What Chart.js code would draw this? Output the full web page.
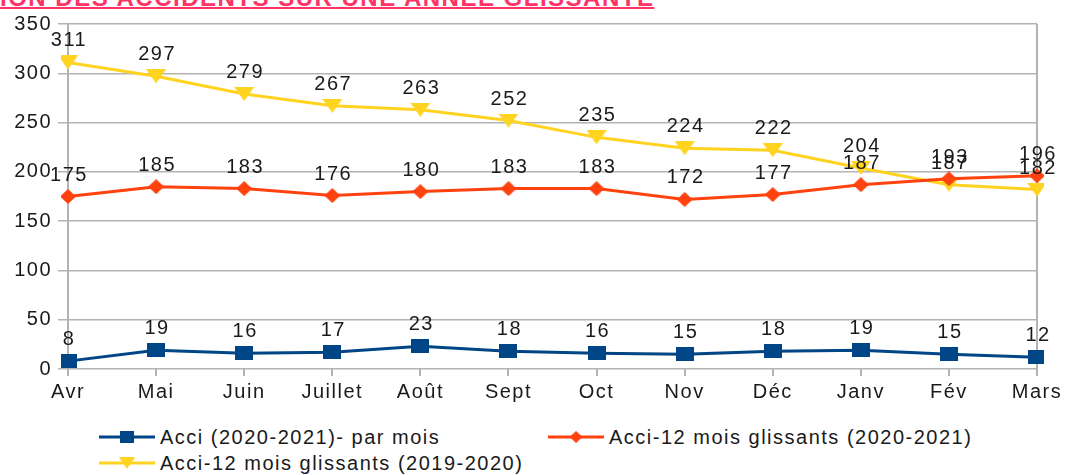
<!DOCTYPE html>
<html>
<head>
<meta charset="utf-8">
<script src="https://cdn.jsdelivr.net/npm/chart.js@4/dist/chart.umd.min.js"></script>
<style>
  body { margin: 0; background: #fff; font-family: "Liberation Sans", Arial, sans-serif; }
  #wrap { position: relative; width: 1065px; height: 475px; overflow: hidden; }
  #title {
    position: absolute; left: 0; top: -14px; white-space: nowrap; letter-spacing: 1.5px;
    font: bold 24px/24px "Liberation Sans", Arial, sans-serif; color: #ff3366;
    text-decoration: underline; text-decoration-thickness: 2px; text-underline-offset: 1px;
  }
  #box { position: absolute; left: 0; top: 0; width: 1065px; height: 405px; }
  .leg { position: absolute; height: 24px; display: flex; align-items: center; font-size: 20px; letter-spacing: 1.5px; color: #1a1a1a; white-space: nowrap; }
  .leg canvas { margin-right: 5px; }
</style>
</head>
<body>
<div id="wrap">
  <div id="title">ION DES ACCIDENTS SUR UNE ANNÉE GLISSANTE</div>
  <div id="box"><canvas id="chart"></canvas></div>
  <div class="leg" id="leg0" style="left:99px; top:425px;"></div>
  <div class="leg" id="leg1" style="left:548px; top:425px;"></div>
  <div class="leg" id="leg2" style="left:99px; top:451px;"></div>
</div>
<script>
const months = ['Avr', 'Mai', 'Juin', 'Juillet', 'Août', 'Sept', 'Oct', 'Nov', 'Déc', 'Janv', 'Fév', 'Mars'];
const parMois = [8, 19, 16, 17, 23, 18, 16, 15, 18, 19, 15, 12];
const glissants2021 = [175, 185, 183, 176, 180, 183, 183, 172, 177, 187, 193, 196];
const glissants2020 = [311, 297, 279, 267, 263, 252, 235, 224, 222, 204, 187, 182];
const seriesNames = ['Acci (2020-2021)- par mois', 'Acci-12 mois glissants (2020-2021)', 'Acci-12 mois glissants (2019-2020)'];

const blue = '#004586';
const orange = '#ff420e';
const yellow = '#ffd320';

// little canvases used as point markers
function marker(type, color, w, h) {
  const c = document.createElement('canvas');
  c.width = w; c.height = h;
  const g = c.getContext('2d');
  g.fillStyle = color;
  g.beginPath();
  if (type === 'square') {
    g.rect(0, 0, w, h);
  } else if (type === 'diamond') {
    g.moveTo(w / 2, 0); g.lineTo(w, h / 2); g.lineTo(w / 2, h); g.lineTo(0, h / 2);
  } else {
    g.moveTo(0, 0); g.lineTo(w, 0); g.lineTo(w / 2, h);
  }
  g.closePath();
  g.fill();
  return c;
}

const ptBlue = marker('square', blue, 18, 14);
const ptOrange = marker('diamond', orange, 16, 15);
const ptYellow = marker('triangle', yellow, 20, 14);

// the original text is a bit spaced out
const spacing = {
  id: 'spacing',
  beforeInit(chart) { chart.ctx.letterSpacing = '1.5px'; },
  beforeDraw(chart) { chart.ctx.letterSpacing = '1.5px'; }
};

// value labels above every point
const valueLabels = {
  id: 'valueLabels',
  afterDatasetsDraw(chart) {
    const ctx = chart.ctx;
    ctx.save();
    ctx.letterSpacing = '1.5px';
    ctx.font = '20px "Liberation Sans", Arial, sans-serif';
    ctx.fillStyle = '#1a1a1a';
    ctx.textAlign = 'center';
    ctx.textBaseline = 'alphabetic';
    chart.data.datasets.forEach((ds, i) => {
      chart.getDatasetMeta(i).data.forEach((pt, j) => {
        ctx.fillText(ds.data[j], pt.x + 1, pt.y - 16);
      });
    });
    ctx.restore();
  }
};

const ctx = document.getElementById('chart').getContext('2d');
new Chart(ctx, {
  type: 'line',
  data: {
    labels: months,
    datasets: [
      { label: seriesNames[0], data: parMois, borderColor: blue, backgroundColor: blue, borderWidth: 3, pointStyle: ptBlue, tension: 0 },
      { label: seriesNames[1], data: glissants2021, borderColor: orange, backgroundColor: orange, borderWidth: 3, pointStyle: ptOrange, tension: 0 },
      { label: seriesNames[2], data: glissants2020, borderColor: yellow, backgroundColor: yellow, borderWidth: 3, pointStyle: ptYellow, tension: 0 }
    ]
  },
  options: {
    responsive: true,
    maintainAspectRatio: false,
    animation: false,
    layout: { padding: { top: 24, right: 28, left: 0, bottom: 0 } },
    plugins: { legend: { display: false }, tooltip: { enabled: false } },
    scales: {
      x: {
        offset: false,
        grid: {
          color: c => (c.index === 0 || c.index === months.length - 1) ? '#b3b3b3' : 'rgba(0,0,0,0)',
          tickColor: '#b3b3b3',
          tickLength: 7,
          lineWidth: 2
        },
        border: { display: false },
        ticks: { color: '#1a1a1a', font: { size: 20, family: '"Liberation Sans", Arial, sans-serif' }, padding: 4, maxRotation: 0, autoSkip: false },
        afterFit: s => { s.height = 36; }
      },
      y: {
        min: 0,
        max: 350,
        grid: { color: '#b3b3b3', tickLength: 10, lineWidth: 1.5 },
        border: { display: false },
        ticks: { stepSize: 50, color: '#1a1a1a', font: { size: 20, family: '"Liberation Sans", Arial, sans-serif' }, padding: 6 },
        afterFit: s => { s.width = 68; }
      }
    }
  },
  plugins: [spacing, valueLabels]
});

// legend built by hand to keep the left aligned layout
[[ptBlue, blue], [ptOrange, orange], [ptYellow, yellow]].forEach(([pt, col], i) => {
  const item = document.getElementById('leg' + i);
  const c = document.createElement('canvas');
  c.width = 56; c.height = 16;
  const g = c.getContext('2d');
  g.strokeStyle = col; g.lineWidth = 3;
  g.beginPath(); g.moveTo(0, 8); g.lineTo(56, 8); g.stroke();
  g.drawImage(pt, 28 - pt.width * 0.4, 8 - pt.height * 0.4, pt.width * 0.8, pt.height * 0.8);
  item.appendChild(c);
  const t = document.createElement('span');
  t.textContent = seriesNames[i];
  item.appendChild(t);
});
</script>
</body>
</html>
